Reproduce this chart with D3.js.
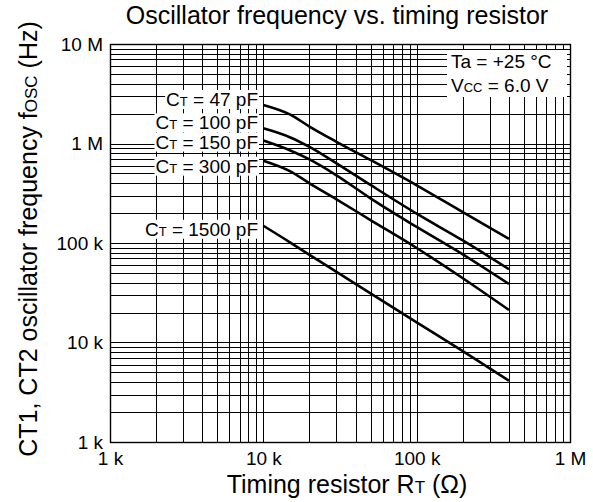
<!DOCTYPE html>
<html lang="en">
<head>
    <meta charset="UTF-8">
    <title>Oscillator frequency vs. timing resistor</title>
    <script src="https://cdn.jsdelivr.net/npm/d3@7/dist/d3.min.js"></script>
    <style>
        body { margin: 0; background: #ffffff; }
        svg { display: block; font-family: "Liberation Sans", Arial, sans-serif; }
    </style>
</head>
<body>
    <div id="canvas"></div>

    <script>

        // ---- data ----
        const xTicks = [1e3, 1e4, 1e5, 1e6];
        const xTickLabels = ['1 k', '10 k', '100 k', '1 M'];
        const yTicks = [1e3, 1e4, 1e5, 1e6, 1e7];
        const yTickLabels = ['1 k', '10 k', '100 k', '1 M', '10 M'];

        const capacitances = ['47', '100', '150', '300', '1500'];   // pF
        const rT = [10e3, 15e3, 20e3, 30e3, 50e3, 100e3, 200e3, 400e3];
        const f47 = [2.44e6, 1.95e6, 1.48e6, 1.04e6, 683e3, 380e3, 204e3, 110e3];
        const f100 = [1.42e6, 1.15e6, 923e3, 632e3, 383e3, 197e3, 106e3, 54.5e3];
        const f150 = [1.07e6, 851e3, 692e3, 479e3, 281e3, 145e3, 76.7e3, 38.7e3];
        const f300 = [672e3, 525e3, 398e3, 275e3, 170e3, 89.1e3, 44.2e3, 21.2e3];
        const f1500 = [149e3, 101e3, 76e3, 51.3e3, 31.2e3, 15.9e3, 8.2e3, 4.13e3];
        const seriesValues = [f47, f100, f150, f300, f1500];

        // ---- layout ----
        const width = 593;
        const height = 502;
        const plot = { left: 110, right: 570, top: 44, bottom: 442 };

        const svg = d3.select('#canvas')
            .append('svg')
            .attr('width', width)
            .attr('height', height);

        const x = d3.scaleLog().domain([1e3, 1e6]).range([plot.left, plot.right]);
        const y = d3.scaleLog().domain([1e3, 1e7]).range([plot.bottom, plot.top]);

        // minor + major grid values (1..9 per decade)
        const gridValues = (lo, hi) => {
            const out = [];
            for (let d = lo; d < hi; d *= 10) {
                for (let k = 1; k < 10; k++) out.push(d * k);
            }
            out.push(hi);
            return out;
        };

        const grid = svg.append('g')
            .attr('stroke', '#000')
            .attr('stroke-width', 1.2)
            .attr('shape-rendering', 'crispEdges');

        grid.selectAll('line.v')
            .data(gridValues(1e3, 1e6))
            .enter()
            .append('line')
            .attr('class', 'v')
            .attr('x1', (d) => Math.round(x(d)) + 0.5)
            .attr('x2', (d) => Math.round(x(d)) + 0.5)
            .attr('y1', plot.top)
            .attr('y2', plot.bottom);

        grid.selectAll('line.h')
            .data(gridValues(1e3, 1e7))
            .enter()
            .append('line')
            .attr('class', 'h')
            .attr('x1', plot.left)
            .attr('x2', plot.right)
            .attr('y1', (d) => Math.round(y(d)) + 0.5)
            .attr('y2', (d) => Math.round(y(d)) + 0.5);

        svg.append('rect')
            .attr('x', plot.left + 0.5)
            .attr('y', plot.top + 0.5)
            .attr('width', plot.right - plot.left)
            .attr('height', plot.bottom - plot.top)
            .attr('fill', 'none')
            .attr('stroke', '#000')
            .attr('stroke-width', 1.4);

        // ---- axes (tick labels only, grid already drawn) ----
        const xAxis = d3.axisBottom(x)
            .tickValues(xTicks)
            .tickSize(0)
            .tickPadding(10)
            .tickFormat((d, i) => xTickLabels[i]);

        svg.append('g')
            .attr('transform', `translate(0, ${plot.bottom})`)
            .call(xAxis)
            .call((g) => g.select('.domain').remove())
            .selectAll('text')
            .attr('font-size', 19)
            .attr('font-family', '"Liberation Sans", Arial, sans-serif')
            .attr('fill', '#000');

        const yAxis = d3.axisLeft(y)
            .tickValues(yTicks)
            .tickSize(0)
            .tickPadding(7)
            .tickFormat((d, i) => yTickLabels[i]);

        svg.append('g')
            .attr('transform', `translate(${plot.left}, 0)`)
            .call(yAxis)
            .call((g) => g.select('.domain').remove())
            .selectAll('text')
            .attr('font-size', 19)
            .attr('font-family', '"Liberation Sans", Arial, sans-serif')
            .attr('fill', '#000');

        // ---- curves ----
        const line = d3.line()
            .x((d) => x(d[0]))
            .y((d) => y(d[1]))
            .curve(d3.curveMonotoneX);

        svg.append('g')
            .selectAll('path')
            .data(seriesValues)
            .enter()
            .append('path')
            .attr('d', (vals) => line(rT.map((r, i) => [r, vals[i]])))
            .attr('fill', 'none')
            .attr('stroke', '#000')
            .attr('stroke-width', 2.6);

        // ---- curve labels (CT = .. pF) with white backing ----
        const labelOffsets = [1, 1, 8, 12, 10];
        const labels = svg.append('g');

        capacitances.forEach((c, i) => {
            const baseY = y(seriesValues[i][0]) + labelOffsets[i];
            const t = labels.append('text')
                .attr('x', 258)
                .attr('y', baseY)
                .attr('text-anchor', 'end')
                .attr('font-size', 19);
            t.append('tspan').text('C');
            t.append('tspan').attr('font-size', 13).text('T');
            t.append('tspan').text(` = ${c} pF`);

            const bb = t.node().getBBox();
            labels.insert('rect', 'text')
                .attr('x', bb.x - 1)
                .attr('y', bb.y + 1)
                .attr('width', bb.width + 2)
                .attr('height', bb.height - 2)
                .attr('fill', '#fff');
        });

        // ---- conditions box ----
        const cond = svg.append('g');
        cond.append('rect')
            .attr('x', 447)
            .attr('y', 50)
            .attr('width', 120)
            .attr('height', 47)
            .attr('fill', '#fff');

        const ta = cond.append('text').attr('x', 451).attr('y', 68).attr('font-size', 19);
        ta.append('tspan').text('Ta = +25 °C');

        const vcc = cond.append('text').attr('x', 451).attr('y', 92).attr('font-size', 19);
        vcc.append('tspan').text('V');
        vcc.append('tspan').attr('font-size', 13).text('CC');
        vcc.append('tspan').text(' = 6.0 V');

        // ---- titles ----
        svg.append('text')
            .attr('x', 337)
            .attr('y', 24)
            .attr('text-anchor', 'middle')
            .attr('font-size', 25)
            .text('Oscillator frequency vs. timing resistor');

        const xt = svg.append('text')
            .attr('x', 347)
            .attr('y', 493)
            .attr('text-anchor', 'middle')
            .attr('font-size', 25);
        xt.append('tspan').text('Timing resistor R');
        xt.append('tspan').attr('font-size', 17).text('T');
        xt.append('tspan').text(' (Ω)');

        const yt = svg.append('text')
            .attr('transform', 'translate(37, 239) rotate(-90)')
            .attr('text-anchor', 'middle')
            .attr('font-size', 25);
        yt.append('tspan').text('CT1, CT2 oscillator frequency f');
        yt.append('tspan').attr('font-size', 17).text('OSC');
        yt.append('tspan').text(' (Hz)');

    </script>
</body>
</html>
